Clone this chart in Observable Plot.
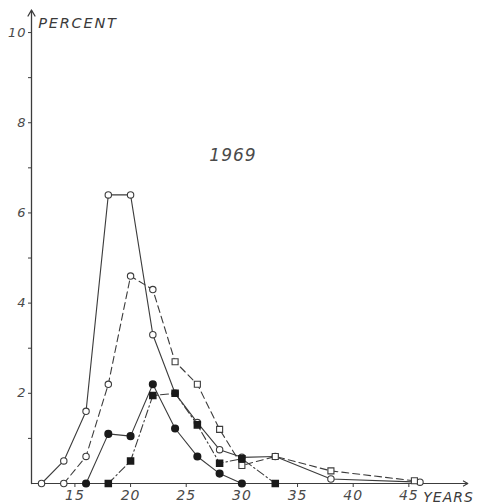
<!DOCTYPE html>
<html><head><meta charset="utf-8">
<script src="https://cdn.jsdelivr.net/npm/d3@7"></script>
<script src="https://cdn.jsdelivr.net/npm/@observablehq/plot@0.6"></script>
<style>body{margin:0;background:#fff} svg{display:block}</style>
</head><body><div id="chart"></div>
<script>
// Series A: solid line, open circles
const agesA = [12, 14, 16, 18, 20, 22, 24, 26, 28, 30, 33, 38, 46];
const pctA  = [0, 0.5, 1.6, 6.4, 6.4, 3.3, 2.0, 1.35, 0.75, 0.58, 0.6, 0.1, 0.03];
// Series B: dashed line, open circles / squares
const agesB = [14, 16, 18, 20, 22, 24, 26, 28, 30, 33, 38, 45.5];
const pctB  = [0, 0.6, 2.2, 4.6, 4.3, 2.7, 2.2, 1.2, 0.4, 0.6, 0.28, 0.06];
// Series C: solid line, filled circles
const agesC = [16, 18, 20, 22, 24, 26, 28, 30];
const pctC  = [0, 1.1, 1.05, 2.2, 1.22, 0.6, 0.22, 0];
// Series D: dash-dot line, filled squares
const agesD = [18, 20, 22, 24, 26, 28, 30, 33];
const pctD  = [0, 0.5, 1.95, 2.0, 1.3, 0.45, 0.55, 0];

const yTicks = [1, 2, 3, 4, 5, 6, 7, 8, 9, 10];
const xTicks = [15, 20, 25, 30, 35, 40, 45];
const yTitle = "PERCENT";
const xTitle = "YEARS";
const yearLabel = "1969";

const rows = (ages, vals) => ages.map((a, i) => ({age: a, pct: vals[i]}));
const A = rows(agesA, pctA), B = rows(agesB, pctB), C = rows(agesC, pctC), D = rows(agesD, pctD);

const ink = "#3c3c3c";
const lineW = 1.1;
const xMin = 11.1, xMax = 50, yMax = 10.5;

const chart = Plot.plot({
  width: 484, height: 504,
  marginLeft: 31, marginRight: 20, marginTop: 9.5, marginBottom: 21,
  x: {domain: [xMin, xMax], label: null},
  y: {domain: [0, yMax], label: null},
  style: {fontFamily: "DejaVu Sans", fontStyle: "italic", fontSize: "13px", color: "#4a4a4a", background: "#fff", letterSpacing: "1px"},
  marks: [
    Plot.axisY(yTicks, {tickSize: 3, tickPadding: 2, tickFormat: d => d % 2 === 0 ? String(d) : "", fontSize: 13, stroke: ink, label: null}),
    Plot.axisX(xTicks, {tickSize: 3, tickPadding: 3, fontSize: 14, stroke: ink, dy: 1, label: null}),
    Plot.arrow([0], {x1: xMin, y1: 0, x2: xMax + 0.3, y2: 0, stroke: ink, strokeWidth: 1.1, headLength: 7}),
    Plot.arrow([0], {x1: xMin, y1: 0, x2: xMin, y2: yMax, stroke: ink, strokeWidth: 1.3, headLength: 8}),
    Plot.text([yTitle], {x: 11.7, y: 10.2, text: d => d, textAnchor: "start", fontSize: 14.5, fontStyle: "italic", fill: "#3a3a3a"}),
    Plot.text([xTitle], {x: 46.3, y: 0, dy: 14, text: d => d, textAnchor: "start", fontSize: 14, fontStyle: "italic", fill: "#3a3a3a"}),
    Plot.text([yearLabel], {x: 29.2, y: 7.27, text: d => d, fontSize: 17, fontStyle: "italic", fill: "#4a4a4a"}),

    Plot.line(A, {x: "age", y: "pct", stroke: ink, strokeWidth: lineW}),
    Plot.line(B, {x: "age", y: "pct", stroke: ink, strokeWidth: lineW, strokeDasharray: "7,4"}),
    Plot.line(C, {x: "age", y: "pct", stroke: ink, strokeWidth: lineW}),
    Plot.line(D, {x: "age", y: "pct", stroke: ink, strokeWidth: lineW, strokeDasharray: "8,3,1.5,3"}),

    Plot.dot(A, {x: "age", y: "pct", r: 3.2, fill: "white", stroke: ink, strokeWidth: 1.1}),
    Plot.dot(B.filter(d => d.age <= 22), {x: "age", y: "pct", r: 3.2, fill: "white", stroke: ink, strokeWidth: 1.1}),
    Plot.dot(B.filter(d => d.age > 22), {x: "age", y: "pct", symbol: "square", r: 3.4, fill: "white", stroke: ink, strokeWidth: 1.1}),
    Plot.dot(C, {x: "age", y: "pct", r: 3.3, fill: "#1a1a1a", stroke: "#1a1a1a"}),
    Plot.dot(D, {x: "age", y: "pct", symbol: "square", r: 3.4, fill: "#1a1a1a", stroke: "#1a1a1a"})
  ]
});
chart.querySelectorAll("text").forEach(t => {
  if (t.textContent === yTitle) t.setAttribute("letter-spacing", "1.8px");
});
document.getElementById("chart").append(chart);
</script>
</body></html>
